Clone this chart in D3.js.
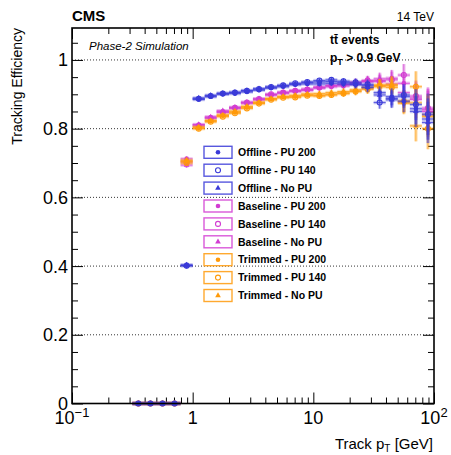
<!DOCTYPE html>
<html>
<head>
<meta charset="utf-8">
<script src="https://cdn.jsdelivr.net/npm/d3@7"></script>
<style>
  body { margin: 0; background: #fff; }
  text { font-family: "Liberation Sans", Arial, sans-serif; }
</style>
</head>
<body>
<div class="chart"></div>
<script>
// bin edges in track pT [GeV]
var binEdges = [0.316, 0.398, 0.501, 0.631, 0.794, 1.0, 1.26, 1.58, 2.0, 2.51, 3.16, 3.98, 5.01,
  6.31, 7.94, 10, 12.6, 15.8, 20, 25.1, 31.6, 39.8, 50.1, 63.1, 79.4, 100];

// efficiencies per bin
var offlinePU200 = [0, 0, 0, 0, 0.402, 0.885, 0.893, 0.900, 0.902, 0.907, 0.912, 0.918, 0.922, 0.928, 0.930, 0.930, 0.932, 0.930, 0.928, 0.925, 0.905, 0.893, 0.880, 0.858, 0.828];
var offlinePU140 = [0, 0, 0, 0, 0.401, 0.887, 0.895, 0.902, 0.905, 0.910, 0.915, 0.921, 0.926, 0.932, 0.936, 0.940, 0.942, 0.938, 0.935, 0.929, 0.876, 0.888, 0.898, 0.870, 0.842];
var offlineNoPU = [0, 0, 0, 0, 0.403, 0.889, 0.897, 0.903, 0.906, 0.911, 0.916, 0.921, 0.925, 0.930, 0.934, 0.936, 0.937, 0.935, 0.930, 0.920, 0.898, 0.884, 0.893, 0.850, 0.818];
var baselinePU200 = [0, 0, 0, 0, 0.712, 0.811, 0.833, 0.850, 0.859, 0.874, 0.884, 0.898, 0.903, 0.908, 0.911, 0.918, 0.922, 0.924, 0.930, 0.937, 0.940, 0.947, 0.932, 0.889, 0.855];
var baselinePU140 = [0, 0, 0, 0, 0.703, 0.808, 0.830, 0.847, 0.861, 0.876, 0.886, 0.900, 0.905, 0.910, 0.914, 0.920, 0.925, 0.928, 0.932, 0.940, 0.937, 0.942, 0.956, 0.895, 0.860];
var baselineNoPU = [0, 0, 0, 0, 0.694, 0.812, 0.834, 0.852, 0.862, 0.877, 0.887, 0.899, 0.906, 0.911, 0.915, 0.921, 0.926, 0.929, 0.935, 0.938, 0.945, 0.930, 0.905, 0.885, 0.850];
var trimmedPU200 = [0, 0, 0, 0, 0.705, 0.802, 0.822, 0.838, 0.848, 0.862, 0.875, 0.886, 0.892, 0.894, 0.898, 0.897, 0.900, 0.904, 0.910, 0.920, 0.927, 0.925, 0.874, 0.875, 0.835];
var trimmedPU140 = [0, 0, 0, 0, 0.700, 0.800, 0.820, 0.835, 0.845, 0.859, 0.873, 0.884, 0.890, 0.891, 0.896, 0.895, 0.898, 0.902, 0.908, 0.915, 0.925, 0.920, 0.880, 0.922, 0.800];
var trimmedNoPU = [0, 0, 0, 0, 0.708, 0.805, 0.824, 0.840, 0.851, 0.865, 0.877, 0.888, 0.894, 0.897, 0.901, 0.902, 0.905, 0.908, 0.913, 0.918, 0.922, 0.929, 0.878, 0.808, 0.840];

// statistical uncertainty per bin
var effErr = [0, 0, 0, 0, 0.008, 0.006, 0.005, 0.005, 0.005, 0.005, 0.005, 0.005, 0.005, 0.006, 0.006, 0.007, 0.008, 0.009, 0.011, 0.014, 0.018, 0.024, 0.032, 0.045, 0.06];

var seriesNames = ["Offline - PU 200", "Offline - PU 140", "Offline - No PU",
  "Baseline - PU 200", "Baseline - PU 140", "Baseline - No PU",
  "Trimmed - PU 200", "Trimmed - PU 140", "Trimmed - No PU"];
var seriesValues = [offlinePU200, offlinePU140, offlineNoPU,
  baselinePU200, baselinePU140, baselineNoPU,
  trimmedPU200, trimmedPU140, trimmedNoPU];

var xTickLabels = [0.1, 1, 10, 100];
var yTickLabels = [0, 0.2, 0.4, 0.6, 0.8, 1];

// 畫布
var width = 451;
var height = 455;
var pLeft = 72, pRight = 434, pTop = 28, pBottom = 403.5;

var svg = d3.select(".chart").append("svg")
  .attr("width", width)
  .attr("height", height);

var x = d3.scaleLog().domain([0.1, 100]).range([pLeft, pRight]);
var y = d3.scaleLinear().domain([0, 1.093]).range([pBottom, pTop]);

var colors = ["#3a3ad8", "#3a3ad8", "#3a3ad8",
  "#d23cd2", "#d23cd2", "#d23cd2",
  "#ff9a0a", "#ff9a0a", "#ff9a0a"];
var shapes = ["dot", "open", "tri", "dot", "open", "tri", "dot", "open", "tri"];
// 繪製順序: Baseline, Trimmed, Offline (Offline on top)
var drawOrder = [3, 4, 5, 6, 7, 8, 0, 1, 2];

// 網格虛線
svg.append("g")
  .selectAll("line")
  .data(yTickLabels.filter(d => d > 0))
  .enter()
  .append("line")
  .attr("x1", pLeft).attr("x2", pRight)
  .attr("y1", d => y(d)).attr("y2", d => y(d))
  .attr("stroke", "#000")
  .attr("stroke-width", 0.8)
  .attr("stroke-dasharray", "1,2");

// 刻度
var xMinor = [];
[0.1, 1, 10].forEach(function (dec) {
  for (var k = 2; k <= 9; k++) xMinor.push(dec * k);
});
var yMinor = d3.range(0, 22).map(d => d * 0.05).filter(d => Math.round(d * 100) % 20 !== 0);

function tickAxis(axis, scale, vals, size, tr) {
  var g = svg.append("g")
    .attr("transform", tr)
    .call(axis(scale).tickValues(vals).tickSize(size).tickFormat(""));
  g.select(".domain").remove();
  g.selectAll("line").attr("stroke", "#000").attr("stroke-width", 1);
}
tickAxis(d3.axisBottom, x, xTickLabels, -11, `translate(0,${pBottom})`);
tickAxis(d3.axisBottom, x, xMinor, -6, `translate(0,${pBottom})`);
tickAxis(d3.axisTop, x, xTickLabels, -11, `translate(0,${pTop})`);
tickAxis(d3.axisTop, x, xMinor, -6, `translate(0,${pTop})`);
tickAxis(d3.axisLeft, y, yTickLabels, -11, `translate(${pLeft},0)`);
tickAxis(d3.axisLeft, y, yMinor, -6, `translate(${pLeft},0)`);
tickAxis(d3.axisRight, y, yTickLabels, -11, `translate(${pRight},0)`);
tickAxis(d3.axisRight, y, yMinor, -6, `translate(${pRight},0)`);

// 數據點
var plot = svg.append("g");
drawOrder.forEach(function (s) {
  var vals = seriesValues[s];
  var pts = vals.map((v, i) => ({
    lo: binEdges[i], hi: binEdges[i + 1],
    c: Math.sqrt(binEdges[i] * binEdges[i + 1]),
    v: v, e: effErr[i]
  }));
  var g = plot.append("g").attr("class", "series-" + s);
  var col = colors[s];
  // 誤差棒 (halo + core)
  [[3.5, 0.3], [1, 0.75]].forEach(function (st) {
    g.selectAll(null).data(pts).enter().append("line")
      .attr("x1", d => x(d.lo)).attr("x2", d => x(d.hi))
      .attr("y1", d => y(d.v)).attr("y2", d => y(d.v))
      .attr("stroke", col).attr("stroke-width", st[0]).attr("stroke-opacity", st[1]);
    g.selectAll(null).data(pts.filter(d => d.e > 0)).enter().append("line")
      .attr("x1", d => x(d.c)).attr("x2", d => x(d.c))
      .attr("y1", d => y(d.v - d.e)).attr("y2", d => y(d.v + d.e))
      .attr("stroke", col).attr("stroke-width", st[0]).attr("stroke-opacity", st[1]);
  });
  drawMarker(g, pts.map(d => [x(d.c), y(d.v)]), shapes[s], col);
});

function drawMarker(g, xy, shape, col) {
  var sel = g.selectAll(null).data(xy).enter();
  if (shape === "dot") {
    sel.append("circle").attr("cx", d => d[0]).attr("cy", d => d[1]).attr("r", 2.3).attr("fill", col);
  } else if (shape === "open") {
    sel.append("circle").attr("cx", d => d[0]).attr("cy", d => d[1]).attr("r", 2.5)
      .attr("fill", "none").attr("stroke", col).attr("stroke-width", 1.1);
  } else {
    sel.append("path")
      .attr("d", d3.symbol(d3.symbolTriangle, 14))
      .attr("transform", d => `translate(${d[0]},${d[1]})`)
      .attr("fill", col);
  }
}

// 外框
svg.append("rect")
  .attr("x", pLeft).attr("y", pTop)
  .attr("width", pRight - pLeft).attr("height", pBottom - pTop)
  .attr("fill", "none").attr("stroke", "#000").attr("stroke-width", 1.6);

// 軸標籤
svg.append("g").selectAll("text")
  .data(yTickLabels).enter().append("text")
  .attr("x", 68).attr("y", d => y(d)).attr("dy", "0.36em")
  .attr("text-anchor", "end").attr("font-size", 18)
  .text(d => d);

var xl = svg.append("g").selectAll("text")
  .data(xTickLabels).enter().append("text")
  .attr("x", d => x(d)).attr("y", 424)
  .attr("text-anchor", "middle").attr("font-size", 18);
xl.each(function (d) {
  var t = d3.select(this);
  if (d === 0.1 || d === 100) {
    t.append("tspan").text("10");
    t.append("tspan").attr("dy", -7).attr("font-size", 13).text(d === 0.1 ? "\u22121" : "2");
  } else {
    t.text(d);
  }
});

var xt = svg.append("text").attr("x", 433).attr("y", 449)
  .attr("text-anchor", "end").attr("font-size", 15);
xt.append("tspan").text("Track p");
xt.append("tspan").attr("dy", 3).attr("font-size", 10).text("T");
xt.append("tspan").attr("dy", -3).text(" [GeV]");

svg.append("text")
  .attr("transform", "translate(22,28) rotate(-90)")
  .attr("text-anchor", "end").attr("font-size", 14)
  .text("Tracking Efficiency");

// 標題
svg.append("text").attr("x", 72).attr("y", 21)
  .attr("font-size", 15).attr("font-weight", "bold").text("CMS");
svg.append("text").attr("x", 434).attr("y", 21)
  .attr("text-anchor", "end").attr("font-size", 12).text("14 TeV");
svg.append("text").attr("x", 89).attr("y", 50)
  .attr("font-size", 11.5).attr("font-style", "italic").text("Phase-2 Simulation");
svg.append("text").attr("x", 330).attr("y", 44)
  .attr("font-size", 12).attr("font-weight", "bold").text("t\u0074\u0304 events");
var pt = svg.append("text").attr("x", 330).attr("y", 62)
  .attr("font-size", 12).attr("font-weight", "bold");
pt.append("tspan").text("p");
pt.append("tspan").attr("dy", 3).attr("font-size", 9).text("T");
pt.append("tspan").attr("dy", -3).text(" > 0.9 GeV");

// 圖例
var legend = svg.append("g");
seriesNames.forEach(function (name, i) {
  var cy = 152.3 + i * 17.9;
  legend.append("rect")
    .attr("x", 204).attr("y", cy - 6).attr("width", 28).attr("height", 12)
    .attr("fill", "#fff").attr("stroke", colors[i]).attr("stroke-width", 1.4).attr("stroke-opacity", 0.85);
  drawMarker(legend, [[218, cy]], shapes[i], colors[i]);
  legend.append("text")
    .attr("x", 238).attr("y", cy).attr("dy", "0.36em")
    .attr("font-size", 10.5).attr("font-weight", "bold")
    .text(name);
});
</script>
</body>
</html>
